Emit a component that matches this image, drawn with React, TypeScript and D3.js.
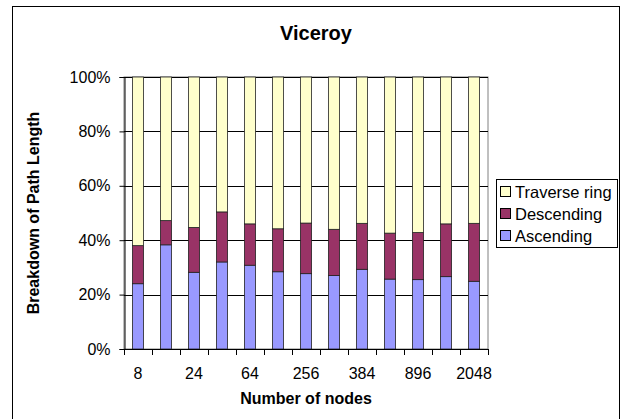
import React, { useEffect, useRef } from "react";
import * as d3 from "d3";

// number of nodes (only every other label is printed on the axis)
const nodeCounts = ["8", "16", "24", "32", "64", "128", "256", "320", "384", "512", "896", "1024", "2048"];

// share of path length, in percent
const ascending = [24.0, 38.3, 28.2, 32.0, 30.8, 28.4, 27.7, 27.0, 29.3, 25.7, 25.5, 26.6, 24.9];
const descending = [14.0, 8.9, 16.5, 18.4, 15.2, 15.8, 18.6, 17.0, 16.9, 16.9, 17.3, 19.4, 21.3];
const traverseRing = [62.0, 52.8, 55.3, 49.6, 54.0, 55.8, 53.7, 56.0, 53.8, 57.4, 57.2, 54.0, 53.8];

const seriesNames = ["Ascending", "Descending", "Traverse ring"];
const seriesColors = ["#9999FF", "#993366", "#FFFFCC"];
const yTicks = [0, 0.2, 0.4, 0.6, 0.8, 1];

const W = 623;
const H = 419;
const FONT = "'Liberation Sans', Arial, sans-serif";

export default function App() {
    const ref = useRef<SVGSVGElement>(null);

    useEffect(() => {
        const svg = d3.select(ref.current);
        svg.selectAll("*").remove();

        const plot = { left: 124, right: 488, top: 77, bottom: 349 };

        const rows = nodeCounts.map((n, i) => ({
            n,
            Ascending: ascending[i],
            Descending: descending[i],
            "Traverse ring": traverseRing[i],
        }));
        const stacked = d3.stack<any>().keys(seriesNames).offset(d3.stackOffsetExpand)(rows);

        const x = d3
            .scaleBand()
            .domain(nodeCounts)
            .range([plot.left, plot.right])
            .paddingInner(0.6)
            .paddingOuter(0.3);
        const y = d3.scaleLinear().domain([0, 1]).range([plot.bottom, plot.top]);

        // chart frame
        svg.append("rect")
            .attr("x", 12.5)
            .attr("y", 6.5)
            .attr("width", 607)
            .attr("height", 430)
            .attr("fill", "#fff")
            .attr("stroke", "#000")
            .attr("stroke-width", 1);

        svg.append("text")
            .attr("x", 316)
            .attr("y", 40)
            .attr("text-anchor", "middle")
            .attr("font-family", FONT)
            .attr("font-weight", "bold")
            .attr("font-size", 20)
            .text("Viceroy");

        // plot area border
        svg.append("rect")
            .attr("x", plot.left)
            .attr("y", plot.top)
            .attr("width", plot.right - plot.left)
            .attr("height", plot.bottom - plot.top)
            .attr("fill", "none")
            .attr("stroke", "#808080")
            .attr("stroke-width", 1);

        // gridlines
        svg.append("g")
            .selectAll("line")
            .data(yTicks.slice(1))
            .join("line")
            .attr("x1", plot.left)
            .attr("x2", plot.right)
            .attr("y1", (d) => Math.round(y(d)) + 0.5)
            .attr("y2", (d) => Math.round(y(d)) + 0.5)
            .attr("stroke", "#000")
            .attr("stroke-width", 1);

        // bars
        svg.append("g")
            .selectAll("g")
            .data(stacked)
            .join("g")
            .attr("fill", (_, i) => seriesColors[i])
            .selectAll("rect")
            .data((d) => d)
            .join("rect")
            .attr("x", (d: any) => x(d.data.n)!)
            .attr("width", x.bandwidth())
            .attr("y", (d) => y(d[1]))
            .attr("height", (d) => y(d[0]) - y(d[1]))
            .attr("stroke", "#222")
            .attr("stroke-width", 0.8);

        // y axis
        const yAxis = svg
            .append("g")
            .attr("transform", `translate(${plot.left + 0.5},0)`)
            .call(d3.axisLeft(y).tickValues(yTicks).tickFormat(d3.format(".0%")).tickSize(5).tickPadding(9));
        yAxis.select(".domain").attr("stroke", "#000");
        yAxis.selectAll(".tick line").attr("stroke", "#000");
        yAxis.selectAll(".tick text")
            .attr("font-family", FONT)
            .attr("font-size", 16)
            .attr("fill", "#000");

        // x axis: ticks between categories, label every other category
        const step = x.step();
        const boundaries = d3.range(nodeCounts.length + 1).map((i) => plot.left + i * step);
        const xAxis = svg.append("g");
        xAxis.append("line")
            .attr("x1", plot.left)
            .attr("x2", plot.right)
            .attr("y1", plot.bottom + 0.5)
            .attr("y2", plot.bottom + 0.5)
            .attr("stroke", "#000");
        xAxis.selectAll("line.tick")
            .data(boundaries)
            .join("line")
            .attr("class", "tick")
            .attr("x1", (d) => Math.round(d) + 0.5)
            .attr("x2", (d) => Math.round(d) + 0.5)
            .attr("y1", plot.bottom)
            .attr("y2", plot.bottom + 6)
            .attr("stroke", "#000");
        xAxis.selectAll("text")
            .data(nodeCounts.filter((_, i) => i % 2 === 0))
            .join("text")
            .attr("x", (d) => x(d)! + x.bandwidth() / 2)
            .attr("y", 379)
            .attr("text-anchor", "middle")
            .attr("font-family", FONT)
            .attr("font-size", 16)
            .text((d) => d);

        // axis titles
        svg.append("text")
            .attr("x", (plot.left + plot.right) / 2)
            .attr("y", 404)
            .attr("text-anchor", "middle")
            .attr("font-family", FONT)
            .attr("font-weight", "bold")
            .attr("font-size", 16)
            .text("Number of nodes");

        svg.append("text")
            .attr("transform", `translate(39,${(plot.top + plot.bottom) / 2}) rotate(-90)`)
            .attr("text-anchor", "middle")
            .attr("font-family", FONT)
            .attr("font-weight", "bold")
            .attr("font-size", 16)
            .text("Breakdown of Path Length");

        // legend (drawn top to bottom in reverse stacking order)
        const legend = svg.append("g");
        legend.append("rect")
            .attr("x", 496.5)
            .attr("y", 179.5)
            .attr("width", 121)
            .attr("height", 68)
            .attr("fill", "#fff")
            .attr("stroke", "#000");
        const items = seriesNames.map((name, i) => ({ name, color: seriesColors[i] })).reverse();
        const row = legend
            .selectAll("g.item")
            .data(items)
            .join("g")
            .attr("class", "item")
            .attr("transform", (_, i) => `translate(0,${192 + i * 22})`);
        row.append("rect")
            .attr("x", 500.5)
            .attr("y", -5.5)
            .attr("width", 10)
            .attr("height", 10)
            .attr("fill", (d) => d.color)
            .attr("stroke", "#000");
        row.append("text")
            .attr("x", 515)
            .attr("y", 0)
            .attr("dy", "0.35em")
            .attr("font-family", FONT)
            .attr("font-size", 16.5)
            .text((d) => d.name);
    }, []);

    return (
        <svg
            ref={ref}
            width={W}
            height={H}
            style={{ position: "absolute", left: 0, top: 0, background: "#fff" }}
        />
    );
}
